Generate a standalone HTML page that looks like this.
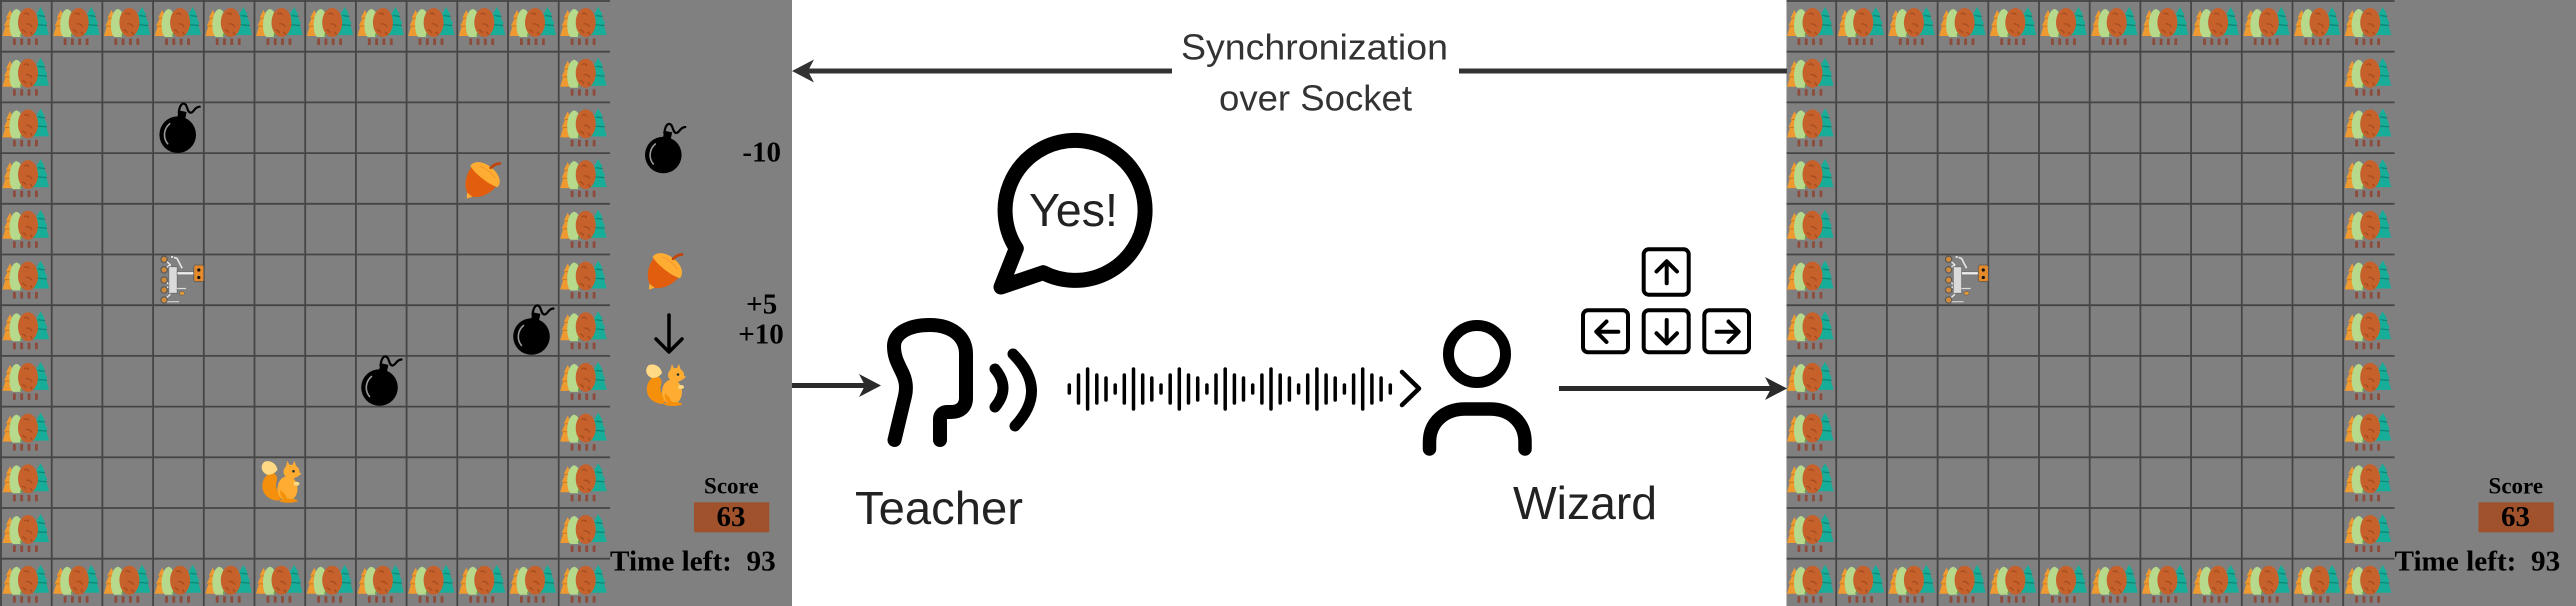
<!DOCTYPE html>
<html>
<head>
<meta charset="utf-8">
<style>
html,body{margin:0;padding:0;background:#fff;width:2576px;height:606px;overflow:hidden;}
svg{display:block;}
</style>
</head>
<body>
<svg width="2576" height="606" viewBox="0 0 2576 606" xmlns="http://www.w3.org/2000/svg" xmlns:xlink="http://www.w3.org/1999/xlink">
<defs>
  <!-- Tree tile (cell-local coords) -->
  <g id="tree">
    <path d="M9 9 L13 17 L11.5 17 L15 25 L13.5 25 L16.5 35 L1.5 35 L4.5 25 L3 25 L6.5 17 L5 17 Z" fill="#ef9a31"/>
    <path d="M4 25 L14 25.5 M6 17 L12 17.5" stroke="#c87a22" stroke-width="1" fill="none"/>
    <path d="M15.5 8 C20 9 22.5 16 22.5 24 C22.5 30 21 35 19 36 L12 36 C10 35 8.5 30 8.5 24 C8.5 16 11 9 15.5 8 Z" fill="#b6d98b"/>
    <path d="M19.5 12 C22.5 18 22.5 28 19.5 35" stroke="#5f9f3f" stroke-width="1.3" fill="none"/>
    <path d="M39.5 6 L44 14 L42.5 14 L46.5 23 L45 23 L48 34 L31 34 L34 23 L32.5 23 L36.5 14 L35 14 Z" fill="#17ad98"/>
    <path d="M37 14.5 L44 15.5 M34 23.5 L46 24.5" stroke="#0d8474" stroke-width="1.2" fill="none"/>
    <ellipse cx="27" cy="21.5" rx="10" ry="14.5" fill="#c6612b"/>
    <path d="M23 13 q3 -2 5 1 M25 23 q4 -1 6 3 M21 29 q3 0 4 3 M29 31 q2 1 2 3" stroke="#a44a1e" stroke-width="1.2" fill="none"/>
    <rect x="12" y="37.5" width="2.8" height="6.5" fill="#8c4b3b"/>
    <rect x="19.3" y="37.5" width="2.8" height="6.5" fill="#8c4b3b"/>
    <rect x="26.6" y="37.5" width="2.8" height="6.5" fill="#8c4b3b"/>
    <rect x="34" y="37.5" width="2.8" height="6.5" fill="#8c4b3b"/>
  </g>

  <!-- Bomb, centered on body -->
  <g id="bomb">
    <path d="M1 -22 C2 -30 5 -33 8 -30 C10 -27 10 -22 13 -22 C16 -22 17 -28 22 -28" fill="none" stroke="#000" stroke-width="2.2" stroke-linecap="round"/>
    <rect x="-4" y="-24" width="8" height="9" fill="#000" transform="rotate(12)"/>
    <circle r="18.3" fill="#000"/>
    <path d="M-10 9 C-15 3 -14 -6 -8 -11" fill="none" stroke="#9a9a9a" stroke-width="1.6" stroke-linecap="round"/>
  </g>

  <!-- Acorn, centered -->
  <g id="acorn">
    <g transform="rotate(38) scale(1.12)">
      <path d="M-14 -3 C-14.5 10 -7 19 0 20.5 C7 19 14.5 10 14 -3 Z" fill="#e25d0d"/>
      <path d="M-3 19.5 L3 19.5 L0 24 Z" fill="#ffac33"/>
      <path d="M-15.5 -1 C-16 -15 16 -15 15.5 -1 C8 2 -8 2 -15.5 -1 Z" fill="#ffac33"/>
      <path d="M-9 -6 Q0 -9 9 -6" stroke="#f09a2a" stroke-width="1" fill="none"/>
      <path d="M0 -11 Q1 -17 4 -19" stroke="#c1440e" stroke-width="2.4" fill="none" stroke-linecap="round"/>
    </g>
  </g>

  <!-- Squirrel, centered -->
  <g id="squirrel">
    <path d="M-2 19 C-20 18 -22 0 -13 -7 C-6 -11 -2 -6 -4 0 C-6 6 -2 12 3 14 Z" fill="#f4900c"/>
    <path d="M-13 -7 C-19 -9 -21 -16 -16 -20 C-10 -22 -4 -18 -3 -12 C-6 -8 -9 -7 -13 -7 Z" fill="#ffd983"/>
    <ellipse cx="7" cy="7" rx="10" ry="12.5" fill="#ffac33"/>
    <path d="M0 8 C-1 14 2 19 8 19 L4 12 Z" fill="#f4900c"/>
    <ellipse cx="11" cy="-10" rx="8" ry="7" fill="#ffac33"/>
    <path d="M5 -14 L7 -21 L10 -14 Z M11 -15 L14 -21 L16 -14 Z" fill="#ffac33"/>
    <path d="M16 -11 L21 -8 L17 -5 Z" fill="#ffac33"/>
    <circle cx="13" cy="-10.5" r="1.3" fill="#292f33"/>
    <ellipse cx="16" cy="2" rx="3" ry="2" fill="#ffd983"/>
    <ellipse cx="8" cy="19" rx="9" ry="2" fill="#f4900c"/>
  </g>

  <!-- Rover, cell-local -->
  <g id="rover">
    <path d="M11 4.8 L17 10 L11 15.5 M11 25.5 L17 31 L11 35.5 M11 45.5 L17 40 M17 10 L17 40" stroke="#eeeeee" stroke-width="1.3" fill="none"/>
    <circle cx="11" cy="4.8" r="3.2" fill="#d08a3a" stroke="#5a5a5a" stroke-width="1.2"/>
    <circle cx="11" cy="15.3" r="3.2" fill="#d08a3a" stroke="#5a5a5a" stroke-width="1.2"/>
    <circle cx="11" cy="25.5" r="3.2" fill="#d08a3a" stroke="#5a5a5a" stroke-width="1.2"/>
    <circle cx="11" cy="35.5" r="3.2" fill="#d08a3a" stroke="#5a5a5a" stroke-width="1.2"/>
    <circle cx="11" cy="45.5" r="3.2" fill="#d08a3a" stroke="#5a5a5a" stroke-width="1.2"/>
    <rect x="15.7" y="12.2" width="8.4" height="26.6" fill="#dadada" stroke="#6a6a6a" stroke-width="0.8"/>
    <path d="M19 2.2 L24 4 L29 13.8" stroke="#e6e6e6" stroke-width="1.6" fill="none"/>
    <circle cx="19" cy="2.5" r="1.6" fill="#ddd" stroke="#666" stroke-width="0.6"/>
    <rect x="24" y="17.3" width="17" height="3" fill="#eeeeee" stroke="#6a6a6a" stroke-width="0.6"/>
    <rect x="40.7" y="10.5" width="10" height="16.7" rx="2" fill="#e58a2b" stroke="#555" stroke-width="0.8"/>
    <circle cx="45.7" cy="15.5" r="1.6" fill="#111"/>
    <circle cx="45.7" cy="23" r="1.6" fill="#111"/>
    <path d="M24 34 L33 34" stroke="#ddd" stroke-width="1.2"/>
    <ellipse cx="29" cy="38.8" rx="2.5" ry="1.9" fill="#e59a35" stroke="#555" stroke-width="0.5"/>
    <path d="M14 47.2 L26 47.2" stroke="#cfcfcf" stroke-width="1.2"/>
  </g>

  <!-- Shared game panel -->
  <g id="panel">
    <rect x="0" y="0" width="792" height="606" fill="#808080"/>
    <path d="M1 0V606 M51.7 0V606 M102.4 0V606 M153.1 0V606 M203.8 0V606 M254.5 0V606 M305.2 0V606 M355.9 0V606 M406.6 0V606 M457.3 0V606 M508 0V606 M558.7 0V606
             M0 1H610 M0 51.7H610 M0 102.4H610 M0 153.1H610 M0 203.8H610 M0 254.5H610 M0 305.2H610 M0 355.9H610 M0 406.6H610 M0 457.3H610 M0 508H610 M0 558.7H610"
          stroke="#454545" stroke-width="1.8" fill="none"/>
    <!-- top row -->
    <use href="#tree" x="1" y="1"/><use href="#tree" x="51.7" y="1"/><use href="#tree" x="102.4" y="1"/><use href="#tree" x="153.1" y="1"/>
    <use href="#tree" x="203.8" y="1"/><use href="#tree" x="254.5" y="1"/><use href="#tree" x="305.2" y="1"/><use href="#tree" x="355.9" y="1"/>
    <use href="#tree" x="406.6" y="1"/><use href="#tree" x="457.3" y="1"/><use href="#tree" x="508" y="1"/><use href="#tree" x="558.7" y="1"/>
    <!-- bottom row -->
    <use href="#tree" x="1" y="558.7"/><use href="#tree" x="51.7" y="558.7"/><use href="#tree" x="102.4" y="558.7"/><use href="#tree" x="153.1" y="558.7"/>
    <use href="#tree" x="203.8" y="558.7"/><use href="#tree" x="254.5" y="558.7"/><use href="#tree" x="305.2" y="558.7"/><use href="#tree" x="355.9" y="558.7"/>
    <use href="#tree" x="406.6" y="558.7"/><use href="#tree" x="457.3" y="558.7"/><use href="#tree" x="508" y="558.7"/><use href="#tree" x="558.7" y="558.7"/>
    <!-- left column -->
    <use href="#tree" x="1" y="51.7"/><use href="#tree" x="1" y="102.4"/><use href="#tree" x="1" y="153.1"/><use href="#tree" x="1" y="203.8"/>
    <use href="#tree" x="1" y="254.5"/><use href="#tree" x="1" y="305.2"/><use href="#tree" x="1" y="355.9"/><use href="#tree" x="1" y="406.6"/>
    <use href="#tree" x="1" y="457.3"/><use href="#tree" x="1" y="508"/>
    <!-- right column -->
    <use href="#tree" x="558.7" y="51.7"/><use href="#tree" x="558.7" y="102.4"/><use href="#tree" x="558.7" y="153.1"/><use href="#tree" x="558.7" y="203.8"/>
    <use href="#tree" x="558.7" y="254.5"/><use href="#tree" x="558.7" y="305.2"/><use href="#tree" x="558.7" y="355.9"/><use href="#tree" x="558.7" y="406.6"/>
    <use href="#tree" x="558.7" y="457.3"/><use href="#tree" x="558.7" y="508"/>
    <!-- rover -->
    <use href="#rover" x="153.1" y="254.5"/>
    <!-- score / time -->
    <g font-family="'Liberation Serif', serif" font-weight="bold" fill="#000">
      <text x="731.3" y="493.3" font-size="23" text-anchor="middle">Score</text>
      <rect x="694" y="502.3" width="75.3" height="30" fill="#a0522d"/>
      <text x="731" y="526" font-size="29" text-anchor="middle">63</text>
      <text x="610" y="570.7" font-size="29" textLength="165.7" lengthAdjust="spacingAndGlyphs">Time left:&#160; 93</text>
    </g>
  </g>

  <clipPath id="rc"><rect x="1786.5" y="0" width="800" height="606"/></clipPath>
</defs>

<rect x="0" y="0" width="2576" height="606" fill="#ffffff"/>

<!-- LEFT PANEL -->
<use href="#panel"/>
<use href="#bomb" x="177.7" y="134.7"/>
<use href="#bomb" x="531.5" y="336.5"/>
<use href="#bomb" x="379.5" y="387.5"/>
<use href="#acorn" x="483.2" y="177.5"/>
<use href="#squirrel" x="280.5" y="481.7"/>

<!-- legend -->
<use href="#bomb" x="663.3" y="155"/>
<use href="#acorn" x="665.5" y="268.5"/>
<use href="#squirrel" x="665" y="385"/>
<path d="M669 315 V351 M656 339 L669 352 L682 339" stroke="#000" stroke-width="3.5" fill="none" stroke-linecap="round" stroke-linejoin="round"/>
<g font-family="'Liberation Serif', serif" font-weight="bold" fill="#000" font-size="29" text-anchor="middle">
  <text x="761.7" y="161.7">-10</text>
  <text x="761.7" y="313.3">+5</text>
  <text x="761" y="343.3">+10</text>
</g>

<!-- RIGHT PANEL -->
<g clip-path="url(#rc)">
  <use href="#panel" transform="translate(1784.5,0)"/>
</g>

<!-- SYNC ARROW -->
<g fill="#333" stroke="none">
  <rect x="806" y="68.5" width="366" height="5"/>
  <rect x="1459" y="68.5" width="328" height="5"/>
  <path d="M792 71 L814 59.5 L808 71 L814 82.5 Z"/>
</g>
<g font-family="'Liberation Sans', sans-serif" fill="#333" font-size="36" text-anchor="middle">
  <text x="1314.5" y="59.5" textLength="267" lengthAdjust="spacingAndGlyphs">Synchronization</text>
  <text x="1315.5" y="110.5" textLength="193" lengthAdjust="spacingAndGlyphs">over Socket</text>
</g>

<!-- TEACHER ARROW -->
<g fill="#2b2b2b">
  <rect x="792" y="383" width="74" height="5"/>
  <path d="M881 385.5 L859 374 L865 385.5 L859 397 Z"/>
</g>

<!-- SPEECH BUBBLE -->
<path d="M1043.2 272.7 A70 70 0 1 0 1016.3 248.4 L1001 287 Z" fill="#fff" stroke="#000" stroke-width="15" stroke-linejoin="round"/>
<text x="1073.5" y="226" font-family="'Liberation Sans', sans-serif" font-size="46" fill="#222" text-anchor="middle" textLength="89" lengthAdjust="spacingAndGlyphs">Yes!</text>

<!-- TEACHER ICON -->
<path d="M894.5 440 L905 396 C907 387 906 380 902 372 C897 362 894 356 894 346 C894 333 909 325 930 325 C951 325 966 336 966 354 L966 398 C966 407 960 412 951 412 L947 412 C943 412 940 415 940 419 L940 440"
      fill="none" stroke="#000" stroke-width="14" stroke-linecap="round" stroke-linejoin="round"/>
<path d="M995 369 Q1011 388 995 407" fill="none" stroke="#000" stroke-width="11" stroke-linecap="round"/>
<path d="M1013 354 Q1049 390 1015 426" fill="none" stroke="#000" stroke-width="11" stroke-linecap="round"/>
<text x="939" y="524" font-family="'Liberation Sans', sans-serif" font-size="46" fill="#222" text-anchor="middle" textLength="168" lengthAdjust="spacingAndGlyphs">Teacher</text>

<!-- WAVEFORM -->
<g stroke="#000" stroke-width="3.5" stroke-linecap="round">
  <line x1="1069.3" y1="385" x2="1069.3" y2="393"/>
  <line x1="1078.5" y1="375" x2="1078.5" y2="403"/>
  <line x1="1087.6" y1="369" x2="1087.6" y2="409"/>
  <line x1="1096.8" y1="375" x2="1096.8" y2="403"/>
  <line x1="1106.0" y1="378" x2="1106.0" y2="400"/>
  <line x1="1115.2" y1="385" x2="1115.2" y2="393"/>
  <line x1="1124.3" y1="375" x2="1124.3" y2="403"/>
  <line x1="1133.5" y1="369" x2="1133.5" y2="409"/>
  <line x1="1142.7" y1="375" x2="1142.7" y2="403"/>
  <line x1="1151.8" y1="378" x2="1151.8" y2="400"/>
  <line x1="1161.0" y1="385" x2="1161.0" y2="393"/>
  <line x1="1170.2" y1="375" x2="1170.2" y2="403"/>
  <line x1="1179.3" y1="369" x2="1179.3" y2="409"/>
  <line x1="1188.5" y1="375" x2="1188.5" y2="403"/>
  <line x1="1197.7" y1="378" x2="1197.7" y2="400"/>
  <line x1="1206.9" y1="385" x2="1206.9" y2="393"/>
  <line x1="1216.0" y1="375" x2="1216.0" y2="403"/>
  <line x1="1225.2" y1="369" x2="1225.2" y2="409"/>
  <line x1="1234.4" y1="375" x2="1234.4" y2="403"/>
  <line x1="1243.5" y1="378" x2="1243.5" y2="400"/>
  <line x1="1252.7" y1="385" x2="1252.7" y2="393"/>
  <line x1="1261.9" y1="375" x2="1261.9" y2="403"/>
  <line x1="1271.0" y1="369" x2="1271.0" y2="409"/>
  <line x1="1280.2" y1="375" x2="1280.2" y2="403"/>
  <line x1="1289.4" y1="378" x2="1289.4" y2="400"/>
  <line x1="1298.6" y1="385" x2="1298.6" y2="393"/>
  <line x1="1307.7" y1="375" x2="1307.7" y2="403"/>
  <line x1="1316.9" y1="369" x2="1316.9" y2="409"/>
  <line x1="1326.1" y1="375" x2="1326.1" y2="403"/>
  <line x1="1335.2" y1="378" x2="1335.2" y2="400"/>
  <line x1="1344.4" y1="385" x2="1344.4" y2="393"/>
  <line x1="1353.6" y1="375" x2="1353.6" y2="403"/>
  <line x1="1362.7" y1="369" x2="1362.7" y2="409"/>
  <line x1="1371.9" y1="375" x2="1371.9" y2="403"/>
  <line x1="1381.1" y1="378" x2="1381.1" y2="400"/>
  <line x1="1390.3" y1="385" x2="1390.3" y2="393"/>
</g>
<path d="M1402 372 L1419 388.5 L1402 405" fill="none" stroke="#000" stroke-width="4.5" stroke-linecap="round" stroke-linejoin="round"/>

<!-- WIZARD ICON -->
<circle cx="1477" cy="354" r="28.5" fill="none" stroke="#000" stroke-width="11"/>
<path d="M1429.5 449 L1429.5 442 C1429.5 422 1445 409 1465 409 L1490 409 C1510 409 1525 422 1525 442 L1525 449"
      fill="none" stroke="#000" stroke-width="13.5" stroke-linecap="round" stroke-linejoin="round"/>
<text x="1585" y="519" font-family="'Liberation Sans', sans-serif" font-size="46" fill="#222" text-anchor="middle" textLength="144" lengthAdjust="spacingAndGlyphs">Wizard</text>

<!-- ARROW KEYS -->
<g fill="none" stroke="#000" stroke-width="4" stroke-linecap="round" stroke-linejoin="round">
  <rect x="1643.7" y="249.3" width="45" height="45.4" rx="5"/>
  <rect x="1583" y="310.3" width="45" height="42" rx="5"/>
  <rect x="1643.7" y="310.3" width="45" height="42" rx="5"/>
  <rect x="1704.3" y="310.3" width="44.7" height="42" rx="5"/>
  <path d="M1666.7 283.3 V261.5 M1656.5 271.5 L1666.7 261.3 L1677 271.5"/>
  <path d="M1618.3 331.7 H1596.5 M1606.5 321.5 L1596.3 331.7 L1606.5 342"/>
  <path d="M1666.7 320 V343.3 M1656.5 333.3 L1666.7 343.5 L1677 333.3"/>
  <path d="M1716.7 331.7 H1738.5 M1728.5 321.5 L1738.7 331.7 L1728.5 342"/>
</g>

<!-- WIZARD ARROW -->
<g fill="#2b2b2b">
  <rect x="1559" y="386" width="213" height="5"/>
  <path d="M1787 388.5 L1765 377 L1771 388.5 L1765 400 Z"/>
</g>
</svg>
</body>
</html>
